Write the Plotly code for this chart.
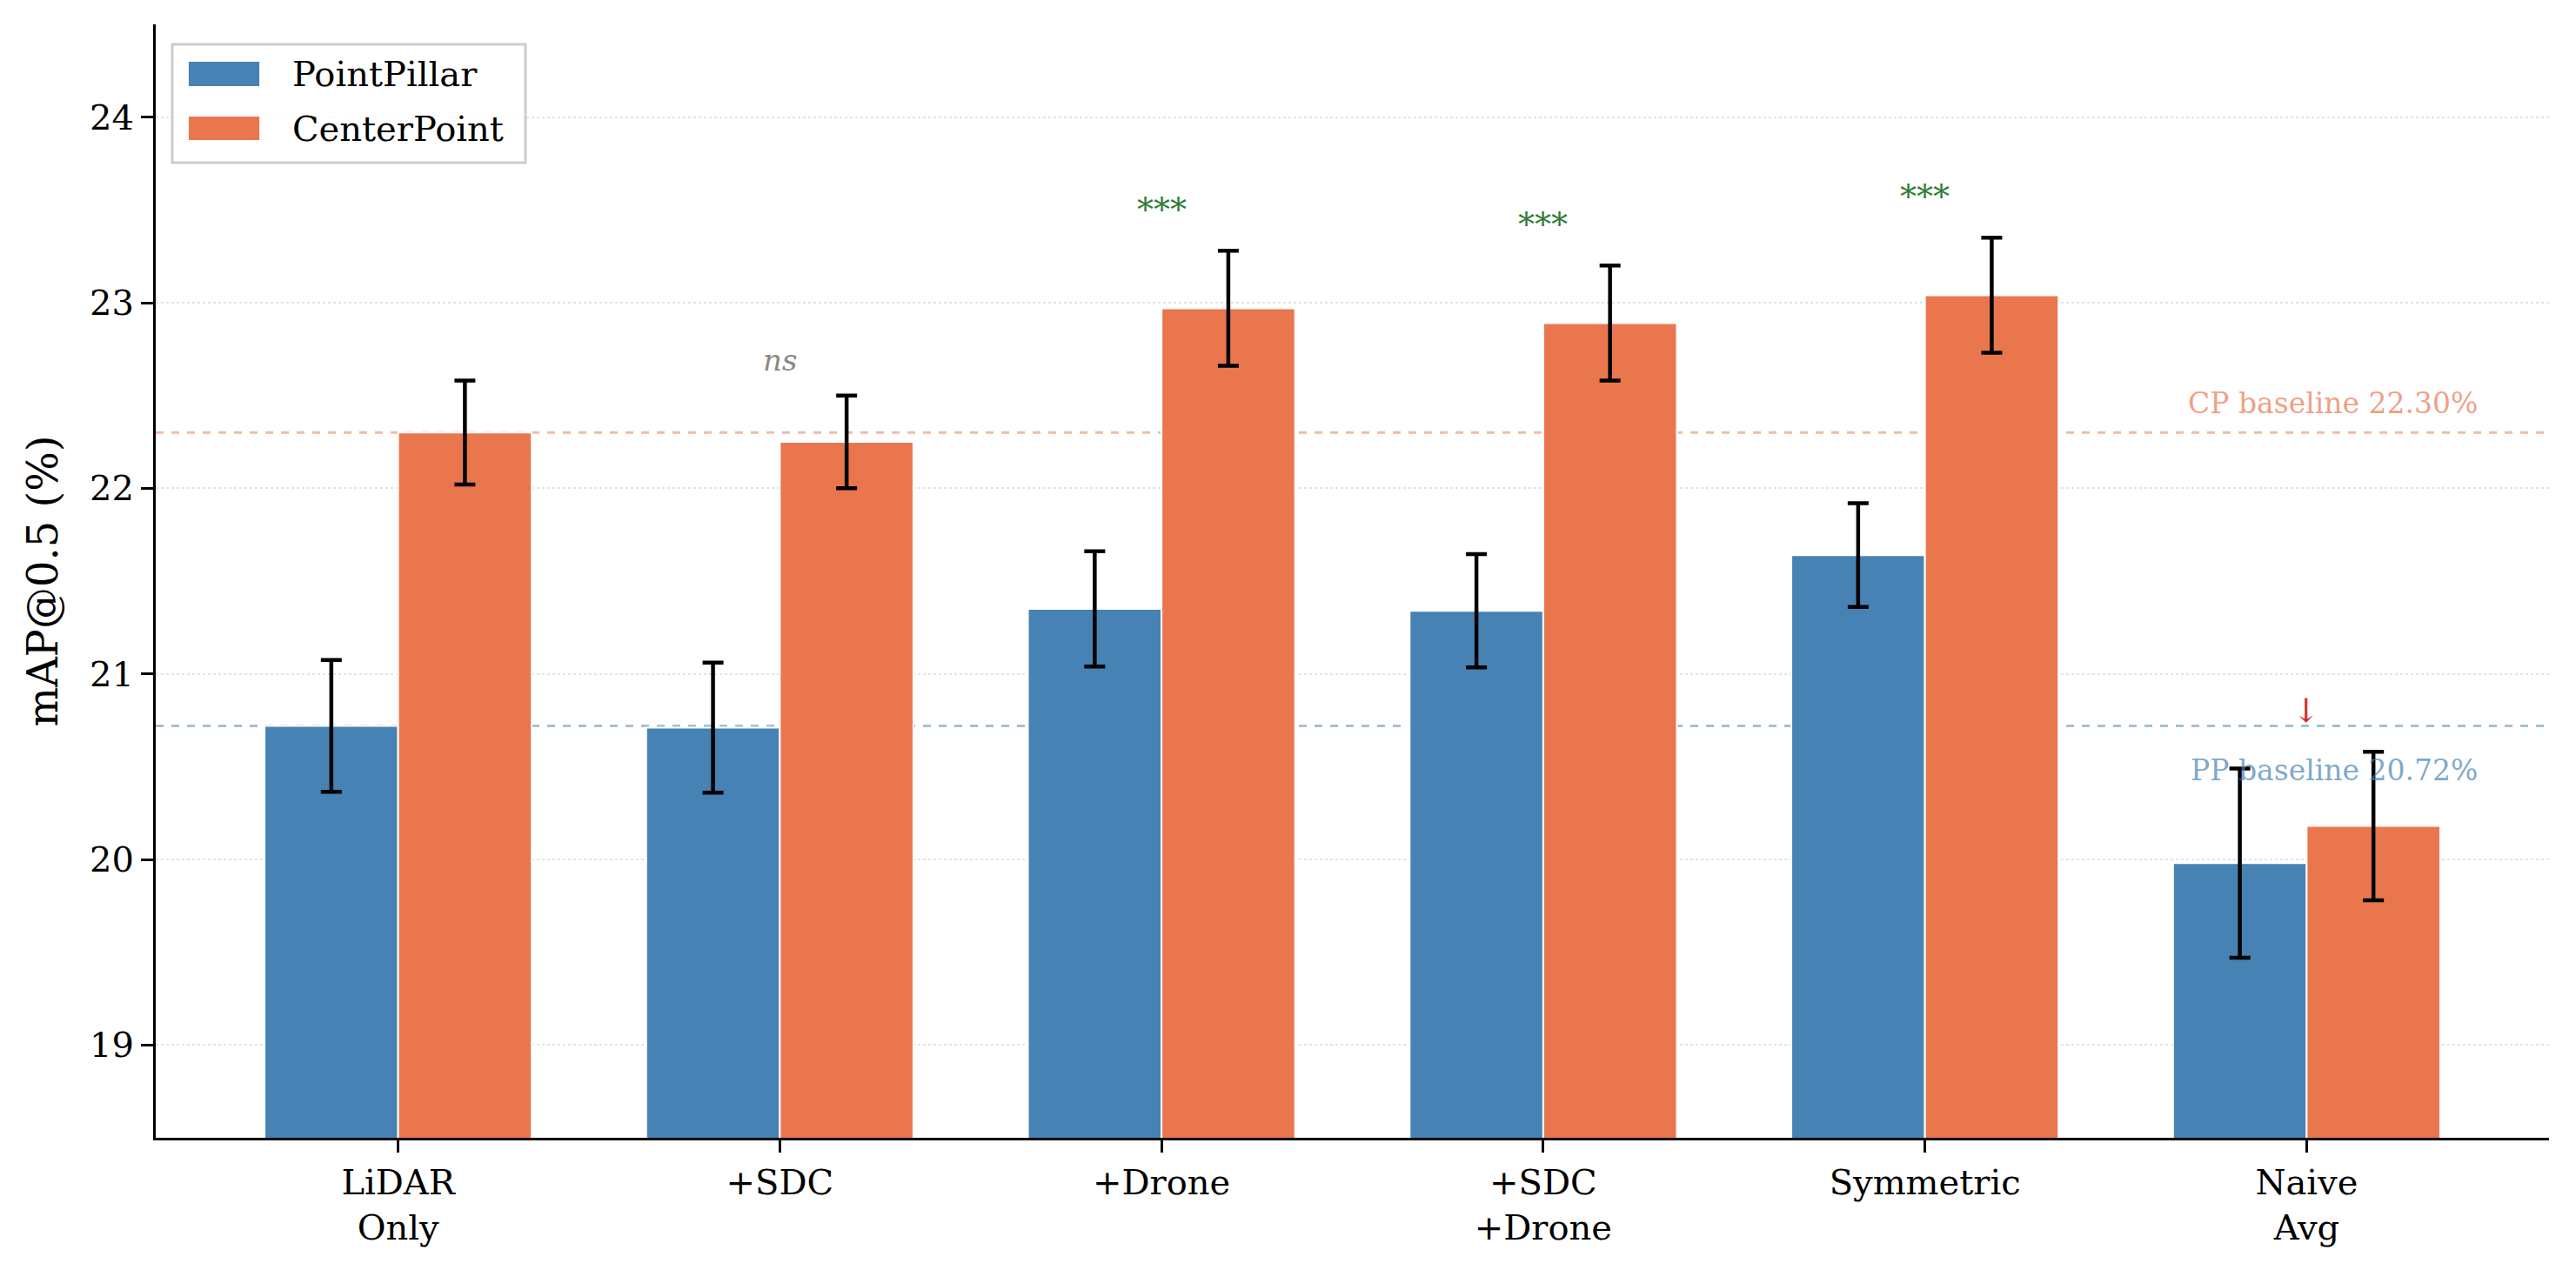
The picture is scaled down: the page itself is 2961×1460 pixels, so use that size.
import plotly.graph_objects as go

# data
categories = ['LiDAR<br>Only', '+SDC', '+Drone', '+SDC<br>+Drone', 'Symmetric', 'Naive<br>Avg']
pp_mean = [20.72, 20.71, 21.35, 21.34, 21.64, 19.98]
pp_err = [0.355, 0.35, 0.31, 0.305, 0.28, 0.51]
cp_mean = [22.30, 22.25, 22.97, 22.89, 23.04, 20.18]
cp_err = [0.28, 0.25, 0.31, 0.31, 0.31, 0.40]

pp_baseline = 20.72
cp_baseline = 22.30

sig_x = [1, 2, 3, 4]
sig_y = [22.69, 23.50, 23.42, 23.57]
sig_text = ['ns', '***', '***', '***']

PP_COLOR = '#4682B4'
CP_COLOR = '#E9764D'
FONT = 'DejaVu Serif'
W = 0.35

x_idx = list(range(len(categories)))

fig = go.Figure()

fig.add_trace(
    go.Bar(
        x=[i - W / 2 for i in x_idx],
        y=pp_mean,
        width=W,
        name='PointPillar',
        marker=dict(color=PP_COLOR, line=dict(color='white', width=2)),
        error_y=dict(type='data', array=pp_err, color='black', thickness=4.5, width=12),
    )
)
fig.add_trace(
    go.Bar(
        x=[i + W / 2 for i in x_idx],
        y=cp_mean,
        width=W,
        name='CenterPoint',
        marker=dict(color=CP_COLOR, line=dict(color='white', width=2)),
        error_y=dict(type='data', array=cp_err, color='black', thickness=4.5, width=12),
    )
)

# baseline lines (behind bars)
shapes = [
    dict(type='line', xref='paper', x0=0, x1=1, yref='y', y0=cp_baseline, y1=cp_baseline,
         line=dict(color='rgba(233,118,77,0.5)', width=3, dash='dash'), layer='below'),
    dict(type='line', xref='paper', x0=0, x1=1, yref='y', y0=pp_baseline, y1=pp_baseline,
         line=dict(color='rgba(70,130,180,0.5)', width=3, dash='dash'), layer='below'),
]

# hand-drawn legend box (matplotlib style)
shapes += [
    dict(type='rect', xref='paper', yref='paper', x0=0.0069, x1=0.1545, y0=0.8758, y1=0.982,
         line=dict(color='#CCCCCC', width=3), fillcolor='rgba(255,255,255,0.8)', layer='above'),
    dict(type='rect', xref='paper', yref='paper', x0=0.0138, x1=0.0433, y0=0.9445, y1=0.9664,
         line=dict(width=0), fillcolor=PP_COLOR, layer='above'),
    dict(type='rect', xref='paper', yref='paper', x0=0.0138, x1=0.0433, y0=0.8961, y1=0.9172,
         line=dict(width=0), fillcolor=CP_COLOR, layer='above'),
]

annotations = []
for name, yy in [('PointPillar', 0.9555), ('CenterPoint', 0.9063)]:
    annotations.append(dict(text=name, xref='paper', yref='paper', x=0.0563, y=yy,
                            xanchor='left', yanchor='middle', showarrow=False,
                            font=dict(family=FONT, size=40, color='black')))

for sx, sy, st in zip(sig_x, sig_y, sig_text):
    if st == 'ns':
        annotations.append(dict(text='<i>ns</i>', x=sx, y=sy, showarrow=False,
                                xanchor='center', yanchor='middle',
                                font=dict(family=FONT, size=34, color='#888888')))
    else:
        annotations.append(dict(text=st, x=sx, y=sy, showarrow=False,
                                xanchor='center', yanchor='middle',
                                font=dict(family=FONT, size=38, color='#2E7D32')))

annotations += [
    dict(text='↓', x=5, y=20.80, showarrow=False, xanchor='center', yanchor='middle',
         font=dict(family=FONT, size=38, color='#D32F2F')),
    dict(text='CP baseline 22.30%', x=5.452, y=22.46, showarrow=False,
         xanchor='right', yanchor='middle',
         font=dict(family=FONT, size=33, color='rgba(233,118,77,0.7)')),
    dict(text='PP baseline 20.72%', x=5.452, y=20.48, showarrow=False,
         xanchor='right', yanchor='middle',
         font=dict(family=FONT, size=33, color='rgba(70,130,180,0.7)')),
]

# page body adds an 8px offset, so margins are nudged to compensate
fig.update_layout(
    width=2961,
    height=1460,
    margin=dict(l=171, r=39, t=20, b=160),
    barmode='overlay',
    showlegend=False,
    plot_bgcolor='white',
    paper_bgcolor='white',
    font=dict(family=FONT, size=40, color='black'),
    shapes=shapes,
    annotations=annotations,
)

fig.update_xaxes(
    range=[-0.635, 5.635],
    tickmode='array',
    tickvals=x_idx,
    ticktext=categories,
    showgrid=False,
    showline=True,
    linecolor='black',
    linewidth=3,
    ticks='outside',
    ticklen=14,
    tickwidth=3,
    tickcolor='black',
    tickfont=dict(family=FONT, size=40),
    zeroline=False,
)
fig.update_yaxes(
    range=[18.5, 24.5],
    tickvals=[19, 20, 21, 22, 23, 24],
    showgrid=True,
    gridcolor='#E3E3E3',
    gridwidth=2,
    griddash='dot',
    showline=True,
    linecolor='black',
    linewidth=3,
    ticks='outside',
    ticklen=14,
    tickwidth=3,
    tickcolor='black',
    tickfont=dict(family=FONT, size=40),
    zeroline=False,
    title=dict(text='mAP@0.5 (%)', font=dict(family=FONT, size=48), standoff=22),
)

fig.write_html('out.html')
